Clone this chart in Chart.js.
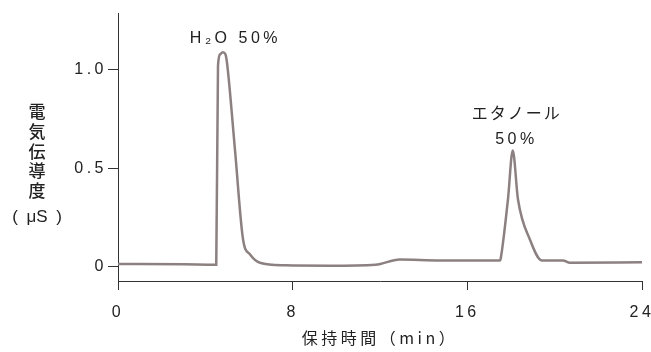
<!DOCTYPE html>
<html>
<head>
<meta charset="utf-8">
<script src="https://cdn.jsdelivr.net/npm/chart.js@4"></script>
<style>
  body { margin: 0; background: #fff; }
</style>
</head>
<body>
<canvas id="chromChart" width="651" height="352"></canvas>
<script>
// Chromatogram data (retention time in min, conductivity in µS)
const times = [0, 3.0, 4.50, 4.58, 4.68, 4.80, 4.92, 5.00, 5.36, 5.73, 6.05, 6.50, 7.65, 9.7, 11.8, 12.9, 14.75, 17.5,
               17.53, 17.86, 18.08, 18.32, 18.87, 19.41, 20.38, 20.7, 24];
const conductivity = [0.012, 0.01, 0.008, 1.02, 1.08, 1.09, 1.08, 1.03, 0.59, 0.135, 0.06, 0.018, 0.005, 0.003, 0.008, 0.035, 0.03, 0.03,
                      0.04, 0.34, 0.59, 0.34, 0.135, 0.03, 0.03, 0.018, 0.02];

const xTicks = [0, 8, 16, 24];
const yTicks = [0, 0.5, 1.0];
const yTickLabels = ['0', '0.5', '1.0'];

// Peak labels
const peakTexts = ['H₂O 50%', 'エタノール', '50%'];
const peakX = [5.31, 18.2, 18.18];
const peakY = [1.158, 0.779, 0.643];

const yTitleChars = ['電', '気', '伝', '導', '度'];

const latin = '"Liberation Sans", Arial, sans-serif';
const cjk = '"Noto Sans CJK JP", sans-serif';
const gap = '3.5px';

const spacing = {
    id: 'spacing',
    beforeUpdate(chart) { chart.ctx.letterSpacing = gap; },
    beforeLayout(chart) { chart.ctx.letterSpacing = gap; },
    beforeDraw(chart) { chart.ctx.letterSpacing = gap; }
};

const labels = {
    id: 'labels',
    afterDraw(chart) {
        const c = chart.ctx;
        const xs = chart.scales.x, ys = chart.scales.y;
        c.save();
        c.fillStyle = '#222';
        c.textAlign = 'center';
        c.textBaseline = 'middle';
        peakTexts.forEach((t, i) => {
            const jp = /[ァ-ン]/.test(t);
            c.letterSpacing = jp ? '2px' : gap;
            c.font = jp ? '16px ' + cjk : '16px ' + latin;
            c.fillText(t, xs.getPixelForValue(peakX[i]) + 1.5, ys.getPixelForValue(peakY[i]));
        });
        // vertical y axis title
        c.letterSpacing = '0px';
        c.font = '500 17px ' + cjk;
        yTitleChars.forEach((ch, i) => c.fillText(ch, 37, 112 + i * 19.6));
        c.font = '17px ' + latin;
        c.fillText('(', 15, 217);
        c.fillText('μS', 37, 217);
        c.fillText(')', 59, 217);
        c.restore();
    }
};

new Chart(document.getElementById('chromChart'), {
    type: 'line',
    data: {
        datasets: [{
            data: times.map((t, i) => ({ x: t, y: conductivity[i] })),
            borderColor: 'rgb(140, 128, 128)',
            borderWidth: 2.5,
            pointRadius: 0,
            cubicInterpolationMode: 'monotone',
            fill: false
        }]
    },
    options: {
        responsive: false,
        animation: false,
        layout: { padding: { top: 13, right: 9, left: 0, bottom: 0 } },
        plugins: { legend: { display: false }, tooltip: { enabled: false } },
        scales: {
            x: {
                type: 'linear',
                min: 0,
                max: 24,
                afterBuildTicks: s => { s.ticks = xTicks.map(v => ({ value: v })); },
                afterFit: s => { s.height = 71; s.paddingLeft = 0; s.paddingRight = 0; },
                grid: { drawOnChartArea: false, tickLength: 9, color: '#333' },
                border: { color: '#333', width: 1 },
                ticks: { color: '#222', font: { family: latin, size: 16 }, padding: 13, maxRotation: 0 },
                title: {
                    display: true,
                    text: '保持時間（min）',
                    color: '#222',
                    font: { family: cjk, size: 16 },
                    padding: { top: 0, bottom: 4 }
                }
            },
            y: {
                min: -0.075,
                max: 1.29,
                afterBuildTicks: s => { s.ticks = yTicks.map(v => ({ value: v })); },
                afterFit: s => { s.width = 118; s.paddingTop = 0; s.paddingBottom = 0; },
                grid: { drawOnChartArea: false, tickLength: 10, color: '#333' },
                border: { color: '#333', width: 1 },
                ticks: {
                    color: '#222',
                    font: { family: latin, size: 16 },
                    padding: 1,
                    callback: v => yTickLabels[yTicks.indexOf(v)]
                }
            }
        }
    },
    plugins: [spacing, labels]
});
</script>
</body>
</html>
